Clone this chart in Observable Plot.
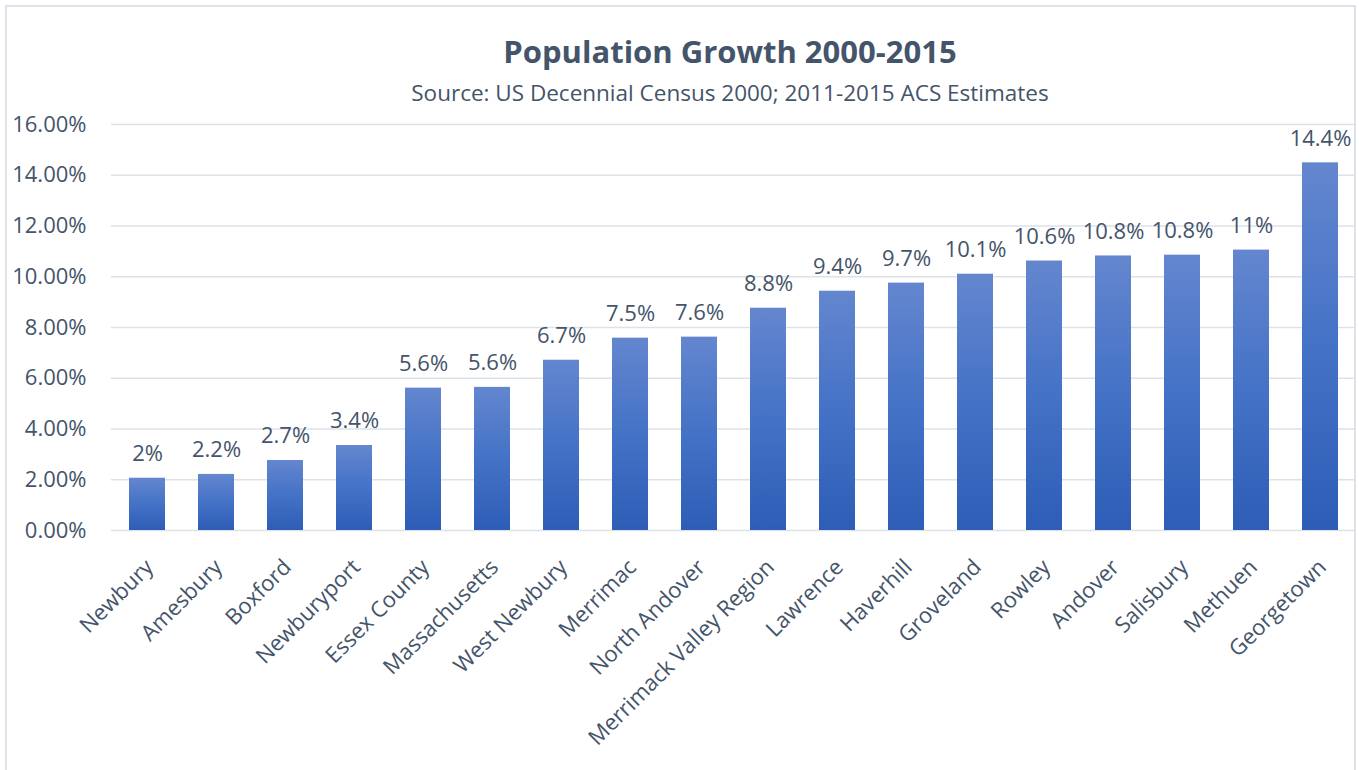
<!DOCTYPE html>
<html>
<head>
<meta charset="utf-8">
<script src="https://cdn.jsdelivr.net/npm/d3@7"></script>
<script src="https://cdn.jsdelivr.net/npm/@observablehq/plot@0.6"></script>
<style>
  html, body { margin: 0; padding: 0; background: #fff; }
  #wrap { position: relative; width: 1359px; height: 770px; overflow: hidden; font-family: "Open Sans", sans-serif; color: #44546a; }
  #frame { position: absolute; left: 5px; top: 5px; width: 1351px; height: 800px; border: 2px solid #dde2e9; box-sizing: border-box; }
  #head { position: relative; height: 96px; text-align: center; }
  #title { position: absolute; left: 0; width: 1460px; top: 31px; font-size: 31px; font-weight: 700; line-height: 40px; }
  #subtitle { position: absolute; left: 0; width: 1460px; top: 78px; font-size: 22.5px; line-height: 30px; }
  #chart { position: relative; }
  #chart svg { overflow: visible; }
</style>
</head>
<body>
<div id="wrap">
  <div id="frame"></div>
  <div id="head">
    <div id="title">Population Growth 2000-2015</div>
    <div id="subtitle">Source: US Decennial Census 2000; 2011-2015 ACS Estimates</div>
  </div>
  <div id="chart"></div>
</div>
<script>
const places = ["Newbury", "Amesbury", "Boxford", "Newburyport", "Essex County", "Massachusetts", "West Newbury", "Merrimac", "North Andover", "Merrimack Valley Region", "Lawrence", "Haverhill", "Groveland", "Rowley", "Andover", "Salisbury", "Methuen", "Georgetown"];
const growth = [2.06, 2.21, 2.76, 3.35, 5.61, 5.64, 6.71, 7.58, 7.62, 8.76, 9.43, 9.75, 10.1, 10.62, 10.82, 10.85, 11.05, 14.49];
const valueLabels = ["2%", "2.2%", "2.7%", "3.4%", "5.6%", "5.6%", "6.7%", "7.5%", "7.6%", "8.8%", "9.4%", "9.7%", "10.1%", "10.6%", "10.8%", "10.8%", "11%", "14.4%"];
const yTicks = [0, 2, 4, 6, 8, 10, 12, 14, 16];

const data = places.map((p, i) => ({place: p, value: growth[i], label: valueLabels[i]}));
const textColor = "#44546a";

const chart = Plot.plot({
  width: 1359,
  height: 674,
  marginTop: 28,
  marginBottom: 240,
  marginLeft: 111,
  marginRight: 3,
  style: {fontFamily: "Open Sans, sans-serif", color: textColor, background: "transparent"},
  x: {domain: places, paddingInner: 0.48, paddingOuter: 0.24, label: null, axis: null},
  y: {domain: [0, 16], label: null},
  marks: [
    Plot.gridY(yTicks, {stroke: "#dde1e8", strokeOpacity: 1, strokeWidth: 1.5}),
    Plot.barY(data, {x: "place", y: "value", fill: "url(#barGrad)"}),
    Plot.text(data, {x: "place", y: "value", text: "label", dy: -17, lineAnchor: "bottom", fontSize: 22, fill: textColor}),
    Plot.axisY(yTicks, {tickSize: 0, tickPadding: 25, tickFormat: d => d.toFixed(2) + "%", fontSize: 22, label: null, fill: textColor}),
    Plot.text(places, {x: d => d, frameAnchor: "bottom", rotate: -45, textAnchor: "end", lineAnchor: "top", dx: -4, dy: 27, fontSize: 22, fill: textColor})
  ]
});

const svg = d3.select(chart);
const defs = svg.insert("defs", ":first-child");
const grad = defs.append("linearGradient").attr("id", "barGrad").attr("x1", 0).attr("y1", 0).attr("x2", 0).attr("y2", 1);
grad.append("stop").attr("offset", "0%").attr("stop-color", "#6486cf");
grad.append("stop").attr("offset", "50%").attr("stop-color", "#4472c6");
grad.append("stop").attr("offset", "100%").attr("stop-color", "#2e5db7");

document.getElementById("chart").appendChild(chart);
</script>
</body>
</html>
